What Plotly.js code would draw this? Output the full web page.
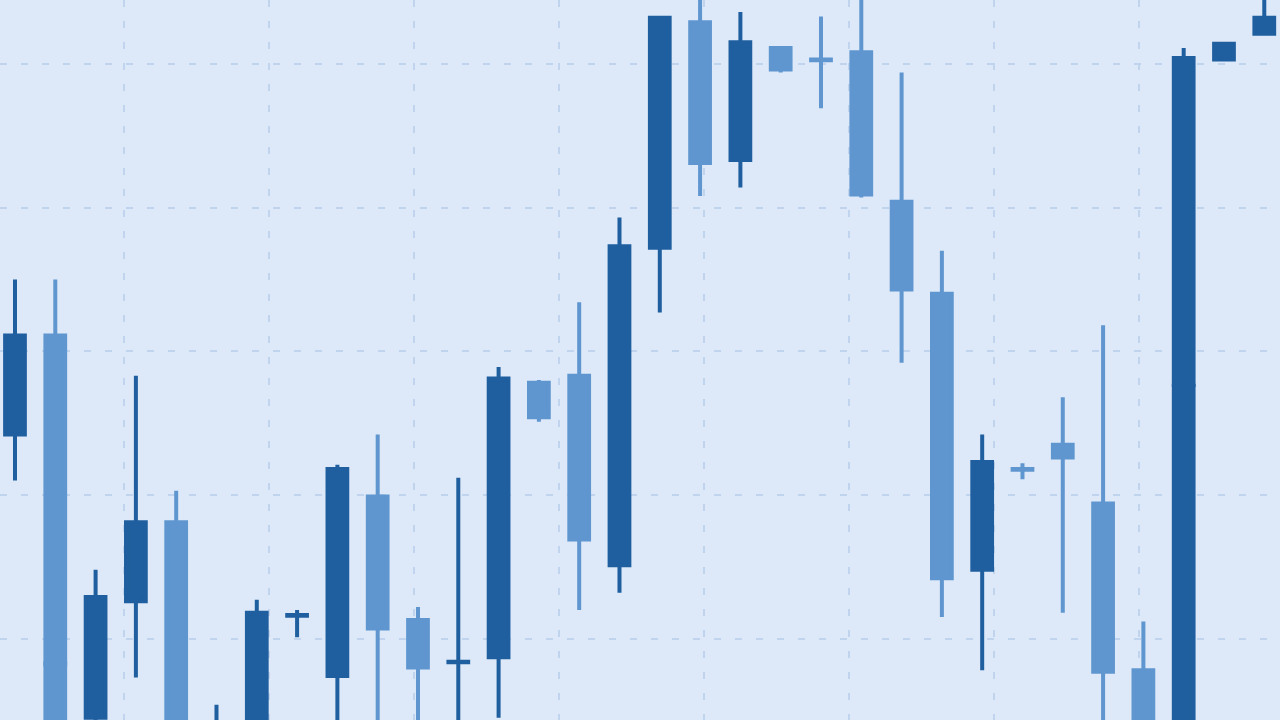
<!DOCTYPE html>
<html>
<head>
<meta charset="utf-8">
<script src="https://cdn.plot.ly/plotly-3.0.1.min.js"></script>
<style>
  html, body { margin: 0; padding: 0; background: #dde9f8; }
  #chart { width: 1280px; height: 720px; }
</style>
</head>
<body>
<div id="chart"></div>
<script>
// Session index of each candle
const session = [0, 1, 1, 2, 3, 4, 5, 6, 7, 8, 9, 10, 11, 12, 13, 14, 15, 16, 17, 18, 19, 20, 21, 22, 23, 24, 25, 26, 27, 28, 29, 29, 30, 31];
const openPrice  = [24.2, 31.1, 8.3, 4.5, 12.6, 18.1, 1.0, 2.0, 11.6, 7.4, 19.9, 11.3, 8.35, 8.7, 27.8, 28.3, 15.1, 37.2, 52.9, 43.3, 51.1, 50.3, 50.8, 40.4, 34.0, 14.8, 21.8, 23.5, 19.4, 7.8, 1.5, 27.65, 50.3, 52.1];
const highPrice  = [35.0, 35.0, 14.6, 14.8, 28.3, 20.3, 5.4, 12.7, 12.0, 22.1, 24.2, 12.2, 21.2, 28.9, 28.0, 33.4, 39.3, 53.3, 55.5, 53.6, 51.1, 53.3, 55.5, 49.4, 37.0, 24.2, 22.2, 26.8, 31.8, 11.2, 27.9, 51.1, 51.4, 55.5];
const lowPrice   = [21.0, 1.5, 0.0, 3.6, 7.3, 0.2, 0.0, 1.0, 10.1, 1.0, 1.0, 1.0, 1.0, 4.5, 25.1, 12.0, 13.2, 32.7, 40.8, 41.4, 49.4, 46.9, 40.7, 29.2, 11.5, 7.8, 21.1, 11.8, 1.0, 0.5, 0.5, 23.6, 50.3, 52.1];
const closePrice = [31.1, 8.2, 1.0, 12.9, 18.1, 1.5, 3.5, 11.8, 11.65, 21.8, 10.7, 8.0, 8.4, 28.1, 25.4, 16.9, 37.3, 53.2, 43.1, 51.5, 49.6, 50.25, 40.9, 34.3, 14.2, 22.3, 21.75, 22.6, 7.7, 1.5, 27.6, 50.4, 51.4, 53.2];

const DARK = '#1f5f9f';
const LIGHT = '#5f96cf';
const BG = '#dde9f8';
const GRID = '#c0d4ee';

const trace = {
  type: 'candlestick',
  x: session,
  open: openPrice,
  high: highPrice,
  low: lowPrice,
  close: closePrice,
  whiskerwidth: 0,
  increasing: { line: { color: DARK, width: 4 }, fillcolor: DARK },
  decreasing: { line: { color: LIGHT, width: 4 }, fillcolor: LIGHT },
  showlegend: false,
  hoverinfo: 'skip'
};

const layout = {
  width: 1280,
  height: 720,
  margin: { l: 0, r: 0, t: 0, b: 0 },
  paper_bgcolor: BG,
  plot_bgcolor: BG,
  showlegend: false,
  boxgap: 0.3,
  xaxis: {
    range: [-0.372, 31.39],
    showticklabels: false,
    ticks: '',
    zeroline: false,
    showline: false,
    showgrid: true,
    gridcolor: GRID,
    gridwidth: 2,
    griddash: '7px,14px',
    tick0: 13.5,
    dtick: 3.6,
    rangeslider: { visible: false },
    fixedrange: true
  },
  yaxis: {
    range: [4.34, 54.44],
    showticklabels: false,
    ticks: '',
    zeroline: false,
    showline: false,
    showgrid: true,
    gridcolor: GRID,
    gridwidth: 2,
    griddash: '7px,14px',
    tick0: 0,
    dtick: 10,
    fixedrange: true
  }
};

Plotly.newPlot('chart', [trace], layout, { displayModeBar: false, staticPlot: true });
</script>
</body>
</html>
